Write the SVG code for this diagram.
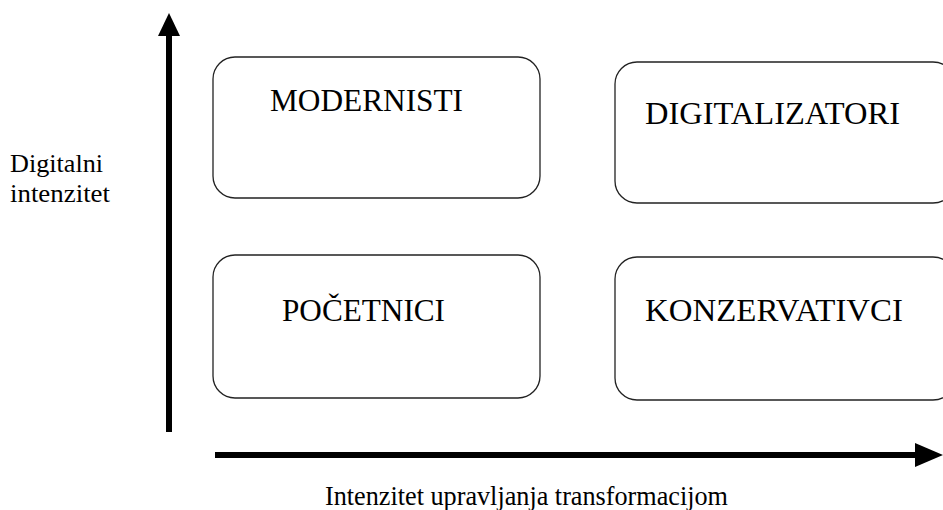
<svg xmlns="http://www.w3.org/2000/svg" width="943" height="510" viewBox="0 0 943 510">
<style>
.box{fill:#fff;stroke:#222;stroke-width:1.3}
.t{font-family:"Liberation Serif","Times New Roman",serif;fill:#000}
.big{font-size:32px}
.small{font-size:26px}
.lbl{font-size:28px}
.axis{stroke:#000;stroke-width:6;fill:none}
</style>
<rect width="943" height="510" fill="#fff"/>
<g id="connectors">
<line class="axis" x1="169" y1="432" x2="169" y2="32"/>
<polygon points="169,13 158,36 180,36" fill="#000"/>
<line class="axis" x1="215" y1="455" x2="918" y2="455"/>
<polygon points="943,455 915,443 915,467" fill="#000"/>
</g>
<g id="modernisti">
<rect class="box" x="213" y="57" width="327" height="141" rx="22"/>
<text class="t big" x="270" y="111" textLength="193" lengthAdjust="spacingAndGlyphs">MODERNISTI</text>
</g>
<g id="digitalizatori">
<rect class="box" x="615" y="62" width="340" height="141" rx="22"/>
<text class="t big" x="645" y="124" textLength="255" lengthAdjust="spacingAndGlyphs">DIGITALIZATORI</text>
</g>
<g id="pocetnici">
<rect class="box" x="213" y="255" width="327" height="143" rx="22"/>
<text class="t big" x="282" y="321" textLength="163" lengthAdjust="spacingAndGlyphs">POČETNICI</text>
</g>
<g id="konzervativci">
<rect class="box" x="615" y="257" width="340" height="143" rx="22"/>
<text class="t big" x="645" y="321" textLength="258" lengthAdjust="spacingAndGlyphs">KONZERVATIVCI</text>
</g>
<g id="y-label">
<text class="t small" x="10" y="172" textLength="93" lengthAdjust="spacingAndGlyphs">Digitalni</text>
<text class="t small" x="10" y="202" textLength="100" lengthAdjust="spacingAndGlyphs">intenzitet</text>
</g>
<g id="x-label">
<text class="t lbl" x="325" y="505" textLength="403" lengthAdjust="spacingAndGlyphs">Intenzitet upravljanja transformacijom</text>
</g>
</svg>
